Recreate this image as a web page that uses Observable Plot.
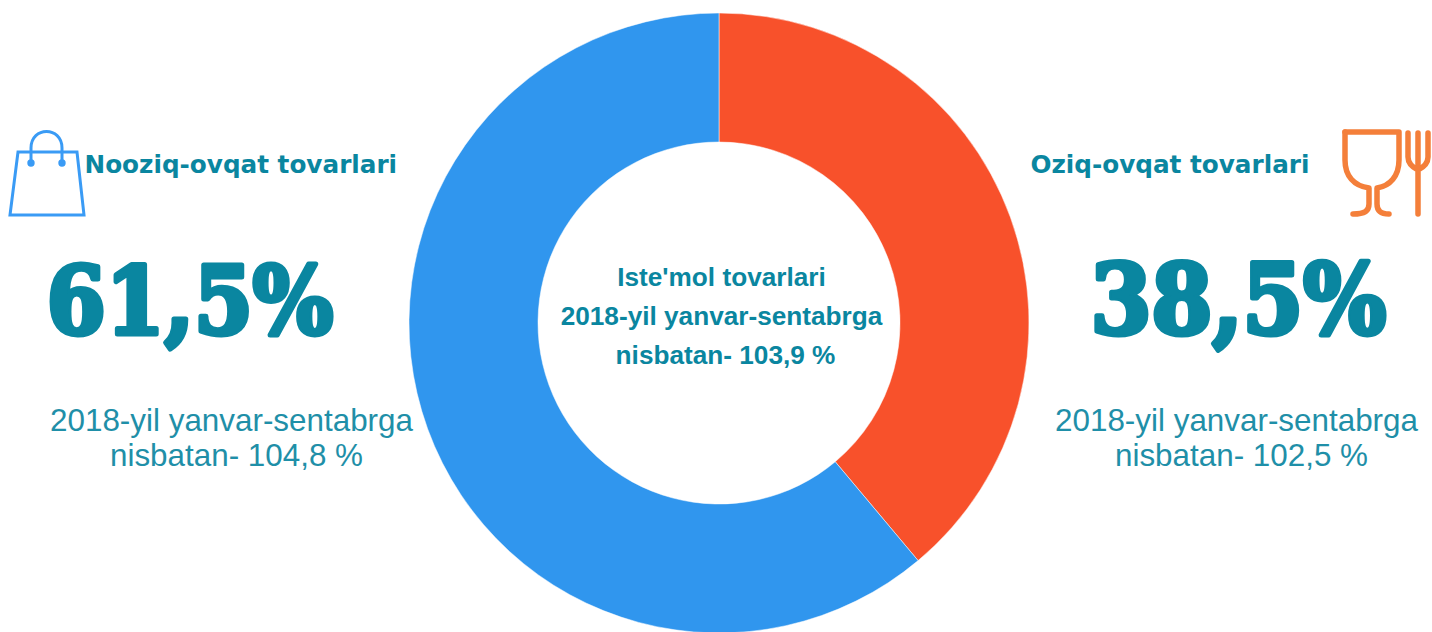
<!DOCTYPE html>
<html>
<head>
<meta charset="utf-8">
<script src="https://cdn.jsdelivr.net/npm/d3@7"></script>
<script src="https://cdn.jsdelivr.net/npm/@observablehq/plot@0.6"></script>
<style>html,body{margin:0;padding:0;background:#fff;overflow:hidden}svg{display:block}</style>
</head>
<body>
<div id="chart"></div>
<script>
// Data
const categories = ["Oziq-ovqat tovarlari", "Nooziq-ovqat tovarlari"];
const sliceShares = [38.9, 61.1];
const shareLabels = ["38,5%", "61,5%"];
const growthLines = ["2018-yil yanvar-sentabrga", "nisbatan- 102,5 %", "nisbatan- 104,8 %"];
const centerLines = ["Iste'mol tovarlari", "2018-yil yanvar-sentabrga", "nisbatan- 103,9 %"];
const sliceColors = ["#f8512b", "#3096ee"];

const W = 1432, H = 632, cx = 719, cy = 323, outer = 310, inner = 181;
const teal = "#0a86a0", tealLight = "#1f8fa8";
const rows = categories.map((category, i) => ({category, share: sliceShares[i]}));

// Donut slices: geometry from d3.pie, fill from Plot's colour scale
const donut = Plot.dot(rows, {
  fill: "category",
  frameAnchor: "middle",
  render(index, scales, values) {
    const pie = d3.pie().sort(null).value(i => rows[i].share)(Array.from(index));
    const arc = d3.arc().innerRadius(inner).outerRadius(outer);
    const g = d3.create("svg:g").attr("transform", `translate(${cx},${cy})`);
    g.selectAll("path").data(pie).join("path")
      .attr("d", arc)
      .attr("fill", d => values.fill[d.data])
      .attr("stroke", "#fff").attr("stroke-width", 0.5);
    return g.node();
  }
});

function label(text, x, y, opts) {
  return Plot.text([text], {
    text: d => d, frameAnchor: "top-left", dx: x, dy: y, lineAnchor: "bottom",
    fontFamily: "Liberation Sans", ...opts
  });
}

const heading = {fontFamily: "DejaVu Sans", fontWeight: 700, fontSize: 24.7, fill: teal, textAnchor: "start"};
const big = {fontFamily: "DejaVu Serif Condensed", fontWeight: 700, fontSize: 94, fill: teal, stroke: teal, strokeWidth: 5, textAnchor: "middle"};
const sub = {fontSize: 31.4, fill: tealLight, textAnchor: "middle"};
const mid = {fontWeight: 700, fontSize: 26.2, fill: teal, textAnchor: "middle"};

const icons = () => {
  const g = d3.create("svg:g").attr("fill", "none").attr("stroke-linecap", "round").attr("stroke-linejoin", "round");
  const bag = g.append("g").attr("stroke", "#3a9bf5").attr("stroke-width", 3);
  bag.append("path").attr("d", "M18 152H77L84 215H10Z").attr("stroke-linejoin", "miter");
  bag.append("path").attr("d", "M31 163V148C31 126 62 126 62 148V163");
  bag.append("circle").attr("cx", 31).attr("cy", 163).attr("r", 2.2).attr("fill", "#3a9bf5");
  bag.append("circle").attr("cx", 62).attr("cy", 163).attr("r", 2.2).attr("fill", "#3a9bf5");
  const food = g.append("g").attr("stroke", "#f47f3a").attr("stroke-width", 5.5);
  food.append("path").attr("d", "M1345 132H1399V160C1399 176 1390 186 1377 188V204C1377 211 1381 214 1389 214");
  food.append("path").attr("d", "M1345 132V160C1345 176 1354 186 1369 188V204C1369 211 1365 214 1353 214");
  food.append("path").attr("d", "M1408 133V157C1408 163 1412 167 1418 170C1424 167 1428 163 1428 157V133M1418 133V214");
  return g.node();
};

const plot = Plot.plot({
  width: W, height: H, margin: 0,
  x: {axis: null}, y: {axis: null},
  color: {domain: categories, range: sliceColors, legend: false},
  marks: [
    donut,
    icons,
    label(categories[1], 84, 172, heading),
    label(categories[0], 1030, 172, heading),
    label(shareLabels[1], 189.5, 333, big),
    label(shareLabels[0], 1238, 333, {...big, fontSize: 97}),
    label(growthLines[0], 231, 430, sub),
    label(growthLines[2], 236, 465, sub),
    label(growthLines[0], 1236, 430, sub),
    label(growthLines[1], 1241, 465, sub),
    label(centerLines[0], 721, 285, mid),
    label(centerLines[1], 721, 324, mid),
    label(centerLines[2], 725, 363, mid)
  ]
});
document.getElementById("chart").appendChild(plot);
</script>
</body>
</html>
